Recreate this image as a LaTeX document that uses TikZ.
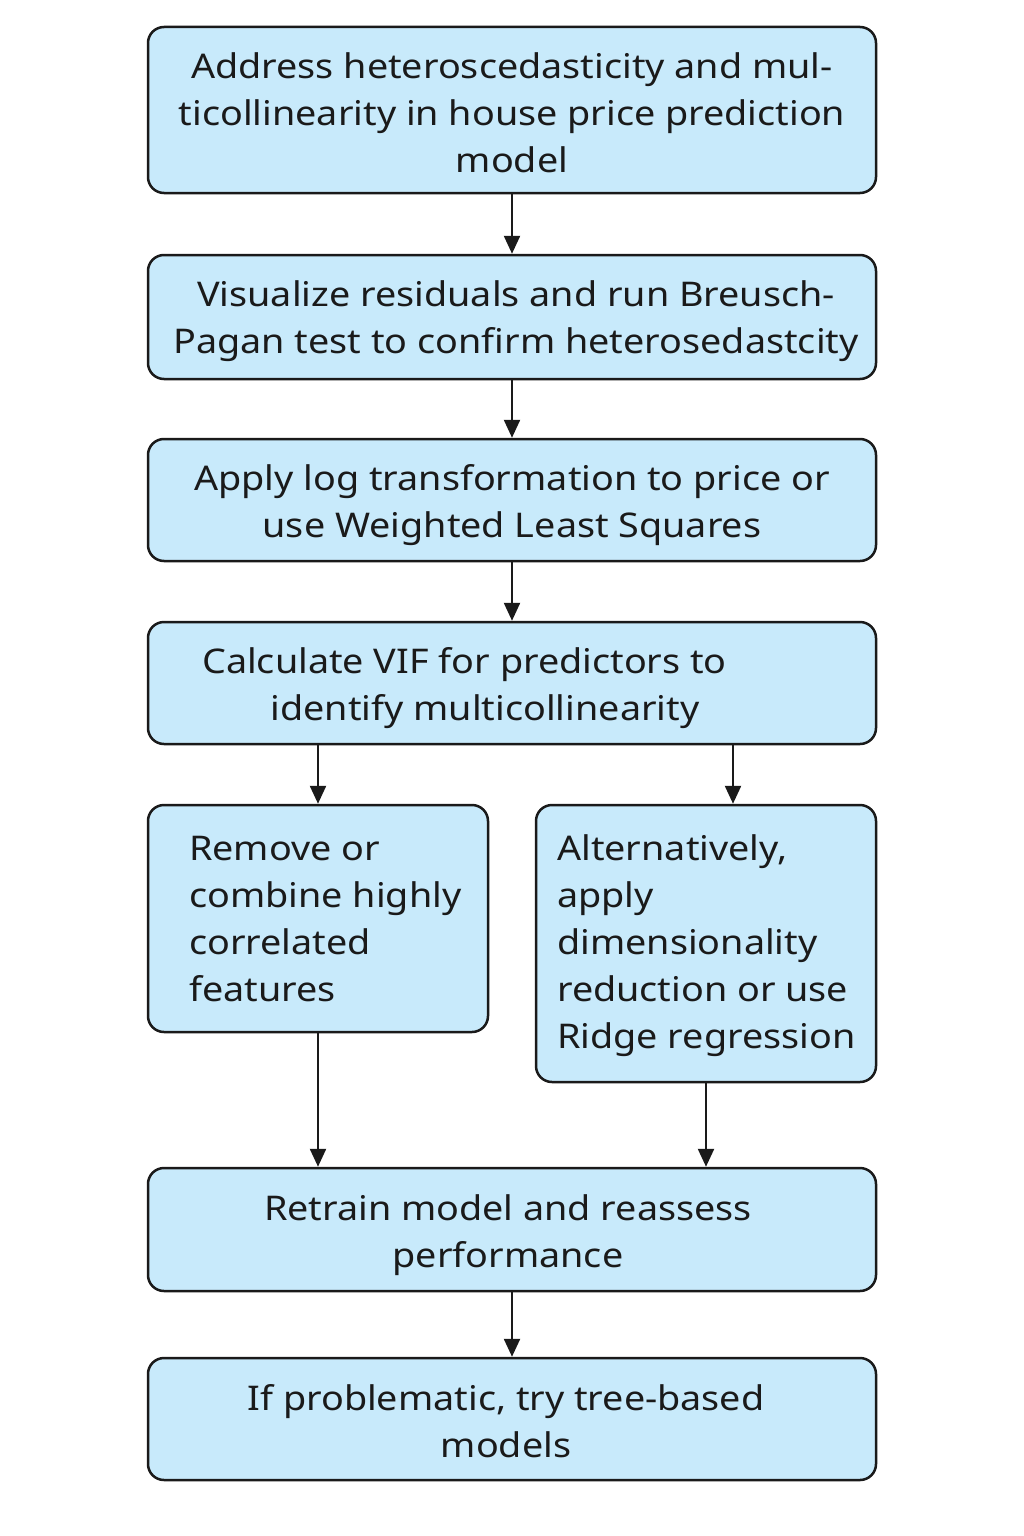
\documentclass[tikz,border=0pt]{standalone}
\usepackage{fontspec}
\setmainfont{Noto Sans}[FakeStretch=1.11]
\usetikzlibrary{arrows.meta}
\definecolor{boxfill}{HTML}{C8EAFB}
\definecolor{ink}{HTML}{1A1A1A}
\begin{document}
\begin{tikzpicture}[x=1pt,y=-1pt,
  box/.style={draw=ink, line width=2.5pt, fill=boxfill, rounded corners=16pt, inner sep=0pt},
  txt/.style={font=\fontsize{34}{47}\selectfont, inner sep=0pt, text=ink},
  arr/.style={draw=ink, line width=2.4pt, -{Triangle[length=18pt,width=16pt]}}]
\useasboundingbox[fill=white] (0,0) rectangle (1024,1536);
% boxes
\node[box, minimum width=728pt, minimum height=166pt] (b1) at (512,110) {};
\node[box, minimum width=728pt, minimum height=124pt] (b2) at (512,317) {};
\node[box, minimum width=728pt, minimum height=122pt] (b3) at (512,500) {};
\node[box, minimum width=728pt, minimum height=122pt] (b4) at (512,683) {};
\node[box, minimum width=340pt, minimum height=227pt] (b5) at (318,918.5) {};
\node[box, minimum width=340pt, minimum height=277pt] (b6) at (706,943.5) {};
\node[box, minimum width=728pt, minimum height=123pt] (b7) at (512,1229.5) {};
\node[box, minimum width=728pt, minimum height=122pt] (b8) at (512,1419) {};
% texts
\node[txt, align=center] (t1) at (512,113) {Address heteroscedasticity and mul-\\ticollinearity in house price prediction\\model};
\node[txt, align=center] (t2) at (516,321) {Visualize residuals and run Breusch-\\Pagan test to confirm heterosedastcity};
\node[txt, align=center] (t3) at (512,505) {Apply log transformation to price or\\use Weighted Least Squares};
\node[txt, align=center] (t4) at (475,688) {Calculate VIF for predictors to\hspace*{21pt}\\\hspace*{20pt}identify multicollinearity};
\node[txt, align=left, anchor=west] (t5) at (189,919) {Remove or\\combine highly\\correlated\\features};
\node[txt, align=left, anchor=west] (t6) at (557,946) {Alternatively,\\apply\\dimensionality\\reduction or use\\Ridge regression};
\node[txt, align=center] (t7) at (508,1235) {Retrain model and reassess\\performance};
\node[txt, align=center] (t8) at (506,1421) {If problematic, try tree-based\\models};
% connectors
\draw[arr] (b1.south) -- (b2.north);
\draw[arr] (b2.south) -- (b3.north);
\draw[arr] (b3.south) -- (b4.north);
\draw[arr] (b5.north |- b4.south) -- (b5.north);
\draw[arr] ([xshift=27pt]b6.north |- b4.south) -- ([xshift=27pt]b6.north);
\draw[arr] (b5.south) -- (b5.south |- b7.north);
\draw[arr] (b6.south) -- (b6.south |- b7.north);
\draw[arr] (b7.south) -- (b8.north);
\end{tikzpicture}
\end{document}
